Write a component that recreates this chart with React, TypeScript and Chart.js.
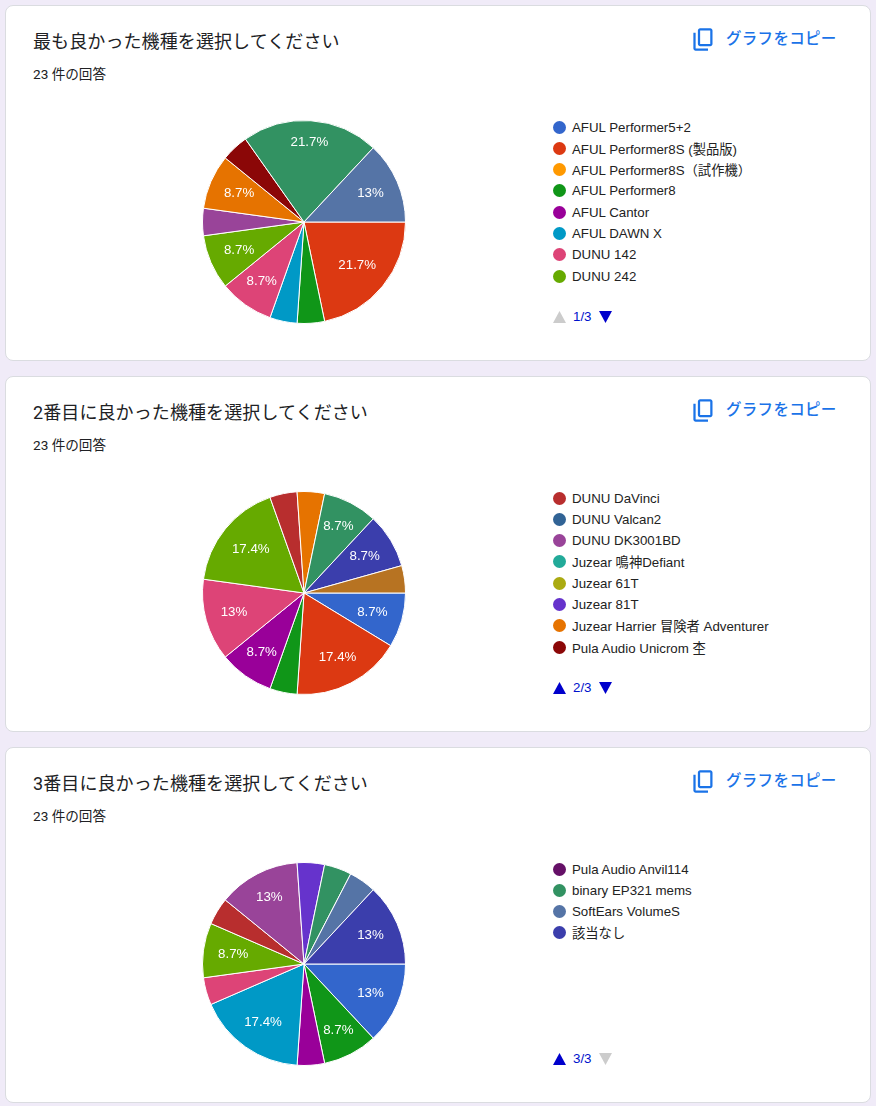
import { useEffect, useRef } from "react";
import { Chart, registerables, ChartConfiguration, Plugin } from "chart.js";

Chart.register(...registerables);

// answer options, in the order the form lists them
const options = [
  "AFUL Performer5+2",
  "AFUL Performer8S (製品版)",
  "AFUL Performer8S（試作機）",
  "AFUL Performer8",
  "AFUL Cantor",
  "AFUL DAWN X",
  "DUNU 142",
  "DUNU 242",
  "DUNU DaVinci",
  "DUNU Valcan2",
  "DUNU DK3001BD",
  "Juzear 鳴神Defiant",
  "Juzear 61T",
  "Juzear 81T",
  "Juzear Harrier 冒険者 Adventurer",
  "Pula Audio Unicrom 杢",
  "Pula Audio Anvil114",
  "binary EP321 mems",
  "SoftEars VolumeS",
  "該当なし",
  "その他",
];

// response counts per option (23 responses each)
const firstChoice = [0, 5, 0, 1, 0, 1, 2, 2, 0, 0, 1, 0, 0, 0, 2, 1, 0, 5, 3, 0];
const secondChoice = [2, 4, 0, 1, 2, 0, 3, 4, 1, 0, 0, 0, 0, 0, 1, 0, 0, 2, 0, 2, 1];
const thirdChoice = [3, 0, 0, 2, 1, 4, 1, 2, 1, 0, 3, 0, 0, 1, 0, 0, 0, 1, 1, 3];

const questions = [
  "最も良かった機種を選択してください",
  "2番目に良かった機種を選択してください",
  "3番目に良かった機種を選択してください",
];

const palette = [
  "#3366cc", "#dc3912", "#ff9900", "#109618", "#990099", "#0099c6", "#dd4477",
  "#66aa00", "#b82e2e", "#316395", "#994499", "#22aa99", "#aaaa11", "#6633cc",
  "#e67300", "#8b0707", "#651067", "#329262", "#5574a6", "#3b3eac", "#b77322",
];

const PER_PAGE = 8;
const latin = "Arial, 'Liberation Sans', 'Noto Sans CJK JP', sans-serif";
const ui = "Roboto, 'Noto Sans CJK JP', sans-serif";

const fmtPct = (p: number) => `${Math.round(p * 10) / 10}%`;

// percentages inside the slices, like google charts does it
const sliceLabels: Plugin<"pie"> = {
  id: "sliceLabels",
  afterDatasetsDraw(chart) {
    const { ctx } = chart;
    const data = chart.data.datasets[0].data as number[];
    const total = data.reduce((a, b) => a + b, 0);
    const meta = chart.getDatasetMeta(0);
    ctx.save();
    ctx.font = `13.3px ${latin}`;
    ctx.fillStyle = "#ffffff";
    ctx.textAlign = "center";
    ctx.textBaseline = "middle";
    meta.data.forEach((el, i) => {
      const v = data[i];
      if (!v || v / total < 0.06) return;
      const { x, y, startAngle, endAngle, outerRadius } = (el as any).getProps(
        ["x", "y", "startAngle", "endAngle", "outerRadius"],
        true
      );
      const mid = (startAngle + endAngle) / 2;
      const text = fmtPct((v / total) * 100);
      const hw = ctx.measureText(text).width / 2;
      const cos = Math.cos(mid);
      const sin = Math.sin(mid);
      const d = outerRadius * 0.86 - (hw * Math.abs(cos) + 6.5 * Math.abs(sin));
      ctx.fillText(text, x + cos * d, y + sin * d);
    });
    ctx.restore();
  },
};

const CopyIcon = () => (
  <svg
    width={27}
    height={27}
    viewBox="0 -960 960 960"
    style={{ position: "absolute", left: 684, top: 20 }}
  >
    <path
      fill="#1a73e8"
      d="M360-240q-33 0-56.5-23.5T280-320v-480q0-33 23.5-56.5T360-880h360q33 0 56.5 23.5T800-800v480q0 33-23.5 56.5T720-240H360Zm0-80h360v-480H360v480ZM200-80q-33 0-56.5-23.5T120-160v-560h80v560h440v80H200Zm160-240v-480 480Z"
    />
  </svg>
);

const Triangle = ({ up, on, left }: { up: boolean; on: boolean; left: number }) => (
  <svg
    width={13}
    height={12}
    style={{ position: "absolute", left, top: 305 }}
  >
    <polygon
      points={up ? "6.5,0 13,12 0,12" : "0,0 13,0 6.5,12"}
      fill={on ? "#0000cc" : "#cccccc"}
    />
  </svg>
);

type CardProps = {
  title: string;
  values: number[];
  page: number;
  top: number;
};

const PieCard = ({ title, values, page, top }: CardProps) => {
  const canvasRef = useRef<HTMLCanvasElement>(null);

  useEffect(() => {
    const ctx = canvasRef.current?.getContext("2d");
    if (!ctx) return;

    const config: ChartConfiguration<"pie"> = {
      type: "pie",
      data: {
        labels: options.slice(0, values.length),
        datasets: [
          {
            data: values,
            backgroundColor: palette.slice(0, values.length),
            borderColor: "#ffffff",
            borderWidth: 1,
          },
        ],
      },
      options: {
        responsive: false,
        animation: false,
        rotation: 90,
        events: [],
        layout: { padding: 0 },
        plugins: {
          legend: { display: false },
          tooltip: { enabled: false },
        },
      },
      plugins: [sliceLabels],
    };

    const chart = new Chart(ctx, config);
    return () => {
      chart.destroy();
    };
  }, [values]);

  const pages = Math.ceil(values.length / PER_PAGE);
  const shown = options.slice(page * PER_PAGE, Math.min(values.length, (page + 1) * PER_PAGE));
  const total = values.reduce((a, b) => a + b, 0);

  return (
    <div
      style={{
        position: "absolute",
        left: 5,
        top,
        width: 866,
        height: 356,
        boxSizing: "border-box",
        background: "#fff",
        border: "1px solid #dadce0",
        borderRadius: 8,
      }}
    >
      <div
        style={{
          position: "absolute",
          left: 27,
          top: 24,
          fontFamily: ui,
          fontSize: 18,
          lineHeight: "24px",
          color: "#202124",
          whiteSpace: "nowrap",
          letterSpacing: 0.1,
        }}
      >
        {title}
      </div>
      <div
        style={{
          position: "absolute",
          left: 27,
          top: 58,
          fontFamily: ui,
          fontSize: 13.6,
          lineHeight: "20px",
          color: "#202124",
        }}
      >
        {total} 件の回答
      </div>

      <CopyIcon />
      <div
        style={{
          position: "absolute",
          left: 720,
          top: 22,
          fontFamily: ui,
          fontSize: 15.5,
          fontWeight: 500,
          lineHeight: "22px",
          color: "#1a73e8",
          letterSpacing: 0.3,
        }}
      >
        グラフをコピー
      </div>

      <canvas
        ref={canvasRef}
        width={204}
        height={204}
        style={{ position: "absolute", left: 196, top: 114 }}
      />

      {shown.map((name, i) => {
        const idx = page * PER_PAGE + i;
        return (
          <div
            key={name}
            style={{
              position: "absolute",
              left: 547,
              top: 111 + i * 21.3,
              height: 20,
              display: "flex",
              alignItems: "center",
              whiteSpace: "nowrap",
            }}
          >
            <span
              style={{
                width: 13,
                height: 13,
                borderRadius: "50%",
                background: palette[idx],
                marginRight: 6,
                flex: "none",
              }}
            />
            <span style={{ fontFamily: latin, fontSize: 13.3, color: "#222222" }}>{name}</span>
          </div>
        );
      })}

      <Triangle up on={page > 0} left={547} />
      <div
        style={{
          position: "absolute",
          left: 567,
          top: 301,
          lineHeight: "20px",
          fontFamily: latin,
          fontSize: 13.3,
          color: "#0011cc",
        }}
      >
        {page + 1}/{pages}
      </div>
      <Triangle up={false} on={page < pages - 1} left={593} />
    </div>
  );
};

const App = () => {
  const series = [firstChoice, secondChoice, thirdChoice];
  return (
    <div style={{ position: "relative", width: "100%", height: 1106, background: "#f0ebf8" }}>
      <style>{"body{margin:0}"}</style>
      {series.map((values, i) => (
        <PieCard key={i} title={questions[i]} values={values} page={i} top={5 + i * 371} />
      ))}
    </div>
  );
};

export default App;
